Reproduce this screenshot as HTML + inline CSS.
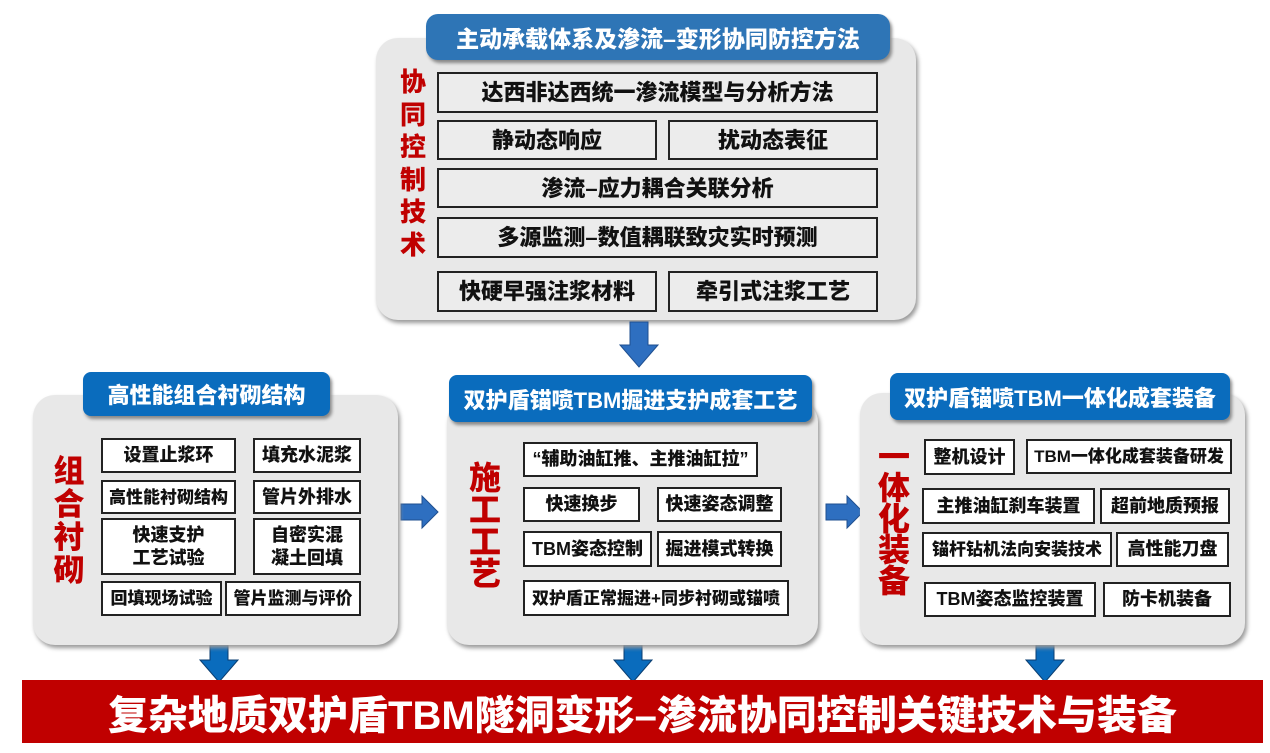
<!DOCTYPE html>
<html><head><meta charset="utf-8"><style>
body{margin:0;width:1270px;height:753px;background:#fff;position:relative;overflow:hidden;font-family:"Liberation Sans","Noto Sans CJK SC",sans-serif;font-weight:900}
.a{position:absolute;box-sizing:border-box}
.panel{background:#e8e8e8;border-radius:22px;box-shadow:2px 3px 4px #999}
.title{background:#0a6cbd;color:#fff;border-radius:8px;display:flex;align-items:center;justify-content:center;box-shadow:2px 3px 3px #888;white-space:nowrap}
.b{border:2px solid #222;background:#fff;display:flex;align-items:center;justify-content:center;text-align:center;font-size:18px;color:#111;line-height:23px;white-space:nowrap}
.t .b{background:#ececec;font-size:22px}
.red{color:#c00000;text-align:center;line-height:1.05}
</style></head><body>
<!-- top -->
<div class="a panel" style="left:376px;top:38px;width:540px;height:282px"></div>
<div class="a title" style="left:426px;top:14px;width:464px;height:46px;font-size:23px;background:#2e75b6;border-radius:12px">主动承载体系及渗流–变形协同防控方法</div>
<div class="a red" style="left:397px;top:66px;width:32px;font-size:26px;line-height:32.5px">协<br>同<br>控<br>制<br>技<br>术</div>
<div class="t">
<div class="a b" style="left:437px;top:72px;width:441px;height:41px">达西非达西统一渗流模型与分析方法</div>
<div class="a b" style="left:437px;top:120px;width:220px;height:40px">静动态响应</div>
<div class="a b" style="left:668px;top:120px;width:210px;height:40px">扰动态表征</div>
<div class="a b" style="left:437px;top:168px;width:441px;height:40px">渗流–应力耦合关联分析</div>
<div class="a b" style="left:437px;top:217px;width:441px;height:41px">多源监测–数值耦联致灾实时预测</div>
<div class="a b" style="left:437px;top:271px;width:220px;height:41px">快硬早强注浆材料</div>
<div class="a b" style="left:668px;top:271px;width:210px;height:41px">牵引式注浆工艺</div>
</div>
<svg class="a" style="left:0;top:0" width="1270" height="753">
<g fill="#2e6fc0" stroke="#1f4f8f" stroke-width="1">
<polygon points="630,322 648,322 648,345 658,345 639,367 620,345 630,345"/>
<polygon points="401,504 422,504 422,496 438,512 422,528 422,520 401,520"/>
<polygon points="826,504 847,504 847,496 863,512 847,528 847,520 826,520"/>
</g>
<g fill="#0a6cbd" stroke="#0a3d70" stroke-width="1">
<polygon points="210,645 228,645 228,660 238,660 219,682 200,660 210,660"/>
<polygon points="624,645 642,645 642,660 652,660 633,682 614,660 624,660"/>
<polygon points="1036,645 1054,645 1054,660 1064,660 1045,682 1026,660 1036,660"/>
</g>
</svg>
<!-- left -->
<div class="a panel" style="left:33px;top:395px;width:365px;height:250px"></div>
<div class="a title" style="left:83px;top:372px;width:247px;height:44px;font-size:22px">高性能组合衬砌结构</div>
<div class="a red" style="left:51px;top:455px;width:36px;font-size:31px;line-height:33px">组<br>合<br>衬<br>砌</div>
<div class="a b" style="left:101px;top:438px;width:135px;height:35px">设置止浆环</div>
<div class="a b" style="left:253px;top:438px;width:108px;height:35px">填充水泥浆</div>
<div class="a b" style="left:101px;top:480px;width:135px;height:34px;font-size:17px">高性能衬砌结构</div>
<div class="a b" style="left:253px;top:480px;width:108px;height:34px">管片外排水</div>
<div class="a b" style="left:101px;top:518px;width:135px;height:57px">快速支护<br>工艺试验</div>
<div class="a b" style="left:253px;top:518px;width:108px;height:57px">自密实混<br>凝土回填</div>
<div class="a b" style="left:101px;top:581px;width:121px;height:35px;font-size:17px">回填现场试验</div>
<div class="a b" style="left:225px;top:581px;width:136px;height:35px;font-size:17px">管片监测与评价</div>
<!-- middle -->
<div class="a panel" style="left:447px;top:400px;width:371px;height:245px"></div>
<div class="a title" style="left:449px;top:375px;width:363px;height:47px;font-size:22px">双护盾锚喷TBM掘进支护成套工艺</div>
<div class="a red" style="left:466px;top:462px;width:38px;font-size:32px;line-height:32px">施<br>工<br>工<br>艺</div>
<div class="a b" style="left:523px;top:442px;width:235px;height:35px">“辅助油缸推、主推油缸拉”</div>
<div class="a b" style="left:523px;top:487px;width:117px;height:35px">快速换步</div>
<div class="a b" style="left:657px;top:487px;width:125px;height:35px">快速姿态调整</div>
<div class="a b" style="left:523px;top:531px;width:129px;height:36px">TBM姿态控制</div>
<div class="a b" style="left:657px;top:531px;width:125px;height:36px">掘进模式转换</div>
<div class="a b" style="left:523px;top:580px;width:266px;height:36px;font-size:17px">双护盾正常掘进+同步衬砌或锚喷</div>
<!-- right -->
<div class="a panel" style="left:860px;top:393px;width:385px;height:252px"></div>
<div class="a title" style="left:890px;top:373px;width:340px;height:47px;font-size:22px">双护盾锚喷TBM一体化成套装备</div>
<div class="a red" style="left:875px;top:442px;width:38px;font-size:32px;line-height:31px">一<br>体<br>化<br>装<br>备</div>
<div class="a b" style="left:924px;top:439px;width:91px;height:36px">整机设计</div>
<div class="a b" style="left:1026px;top:439px;width:206px;height:35px;font-size:17px">TBM一体化成套装备研发</div>
<div class="a b" style="left:922px;top:488px;width:173px;height:36px">主推油缸刹车装置</div>
<div class="a b" style="left:1100px;top:488px;width:130px;height:36px">超前地质预报</div>
<div class="a b" style="left:922px;top:532px;width:190px;height:35px;font-size:17px">锚杆钻机法向安装技术</div>
<div class="a b" style="left:1116px;top:532px;width:113px;height:35px">高性能刀盘</div>
<div class="a b" style="left:924px;top:582px;width:172px;height:35px">TBM姿态监控装置</div>
<div class="a b" style="left:1103px;top:582px;width:128px;height:35px">防卡机装备</div>
<!-- bottom -->
<div class="a" style="left:22px;top:680px;width:1241px;height:63px;background:#c00000;color:#fff;font-size:40px;display:flex;align-items:center;justify-content:center;white-space:nowrap">复杂地质双护盾TBM隧洞变形–渗流协同控制关键技术与装备</div>
</body></html>
